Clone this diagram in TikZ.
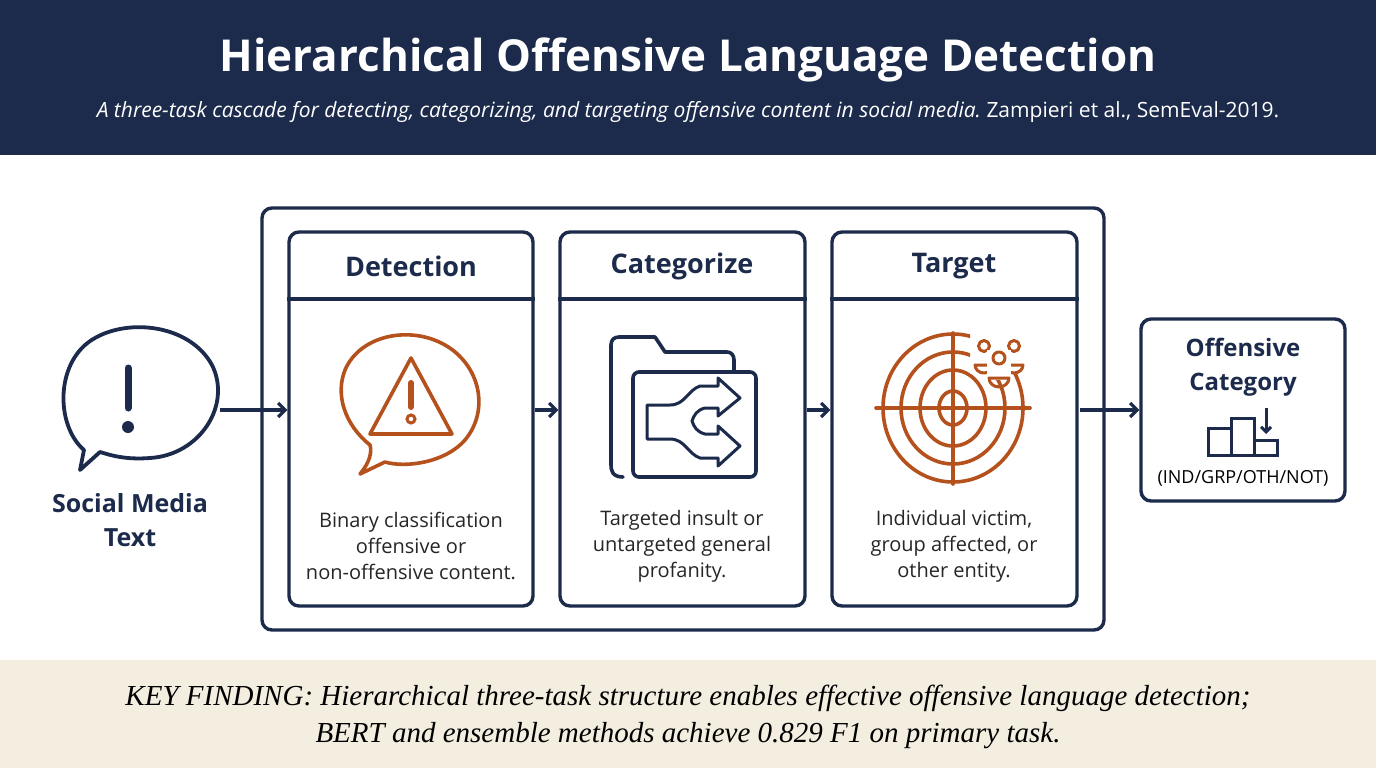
\documentclass[tikz,border=0pt]{standalone}
\usepackage{fontspec}
\setmainfont{Open Sans}
\newfontfamily\serifit{Liberation Serif}
\usetikzlibrary{arrows.meta}
\definecolor{navy}{HTML}{1C2B4B}
\definecolor{rust}{HTML}{B4511C}
\definecolor{beige}{HTML}{F4EEE1}
\tikzset{
  panel/.style={draw=navy,line width=3.4pt,rounded corners=10pt},
  flow/.style={draw=navy,line width=3.2pt,-{Straight Barb[length=7pt,width=14pt]}},
  head/.style={text=navy,font=\fontsize{27}{30}\selectfont\bfseries},
  desc/.style={text=black!85,font=\fontsize{20}{26}\selectfont,align=center},
  ico/.style={line width=3.6pt,line join=round,line cap=round},
}
\begin{document}
\begin{tikzpicture}[x=1pt,y=-1pt]
\useasboundingbox (0,0) rectangle (1376,768);
\fill[white] (0,0) rectangle (1376,768);
\fill[navy] (0,0) rectangle (1376,155);
\node[text=white,font=\fontsize{44}{48}\selectfont\bfseries] (title) at (688,60) {Hierarchical Offensive Language Detection};
\node[text=white,font=\fontsize{21}{24}\selectfont] (sub) at (688,112) {\itshape A three-task cascade for detecting, categorizing, and targeting offensive content in social media.\upshape\ Zampieri et al., SemEval-2019.};
\fill[beige] (0,660) rectangle (1376,768);
\node[font=\serifit\itshape\fontsize{29}{37}\selectfont,align=center,text=black] (key) at (688,717) {KEY FINDING: Hierarchical three-task structure enables effective offensive language detection;\\BERT and ensemble methods achieve 0.829 F1 on primary task.};

% outer box
\draw[panel] (262,208) rectangle (1104,630);
\node[panel,minimum width=244pt,minimum height=374pt] (p1) at (411,419) {};
\node[panel,minimum width=245pt,minimum height=374pt] (p2) at (682.5,419) {};
\node[panel,minimum width=245pt,minimum height=374pt] (p3) at (954.5,419) {};
\foreach \p in {p1,p2,p3}{\draw[navy,line width=3.4pt] (\p.west |- 0,299) -- (\p.east |- 0,299);}
\node[head] (h1) at (411,266) {Detection};
\node[head] (h2) at (682,266) {Categorize};
\node[head] (h3) at (954,266) {Target};
\node[desc] (d1) at (411,546) {Binary classification\\offensive or\\non-offensive content.};
\node[desc] (d2) at (682,546) {Targeted insult or\\untargeted general\\profanity.};
\node[desc] (d3) at (954,546) {Individual victim,\\group affected, or\\other entity.};

% source
\draw[ico,navy,line width=3.8pt] (84,450) .. controls (55,425) and (55,360) .. (95,338) .. controls (130,318) and (190,325) .. (212,365) .. controls (232,405) and (200,455) .. (150,458) .. controls (125,460) and (110,455) .. (100,452) -- (80,470) -- cycle;
\draw[navy,line width=7pt,line cap=round] (128,368) -- (128,408);
\fill[navy] (128,427) circle (6);
\node[text=navy,font=\fontsize{25}{34}\selectfont\bfseries,align=center] (src) at (130,520) {Social Media\\Text};
\coordinate (srcR) at (220,410);

% output
\node[panel,minimum width=204pt,minimum height=182pt] (out) at (1243,410) {};
\node[text=navy,font=\fontsize{24}{34}\selectfont\bfseries,align=center] (ot) at (1243,367) {Offensive\\Category};
\draw[navy,line width=3pt] (1208,455) rectangle (1231,428) (1231,455) rectangle (1254,418) (1254,455) rectangle (1277,440);
\draw[navy,line width=3pt,-{Straight Barb[length=5pt,width=10pt]}] (1266,408) -- (1266,434);
\node[text=black,font=\fontsize{18}{22}\selectfont] (cats) at (1243,478) {(IND/GRP/OTH/NOT)};

% arrows
\draw[flow] (srcR) -- (p1.west |- srcR);
\draw[flow] (p1.east |- srcR) -- (p2.west |- srcR);
\draw[flow] (p2.east |- srcR) -- (p3.west |- srcR);
\draw[flow] (1080,410) -- (out.west);

% detection icon
\draw[ico,rust] (360,474) .. controls (370,462) and (372,452) .. (370,445) .. controls (345,425) and (335,395) .. (345,370) .. controls (360,335) and (410,325) .. (445,345) .. controls (480,365) and (490,410) .. (465,440) .. controls (445,463) and (405,468) .. (385,462) -- cycle;
\draw[ico,rust] (411,358) -- (452,434) -- (370,434) -- cycle;
\draw[rust,line width=6pt,line cap=round] (411,383) -- (411,407);
\draw[rust,line width=3pt] (411,419) circle (4);

% categorize icon
\draw[ico,navy] (623,477) .. controls (612,477) and (611,470) .. (611,465) -- (611,345) .. controls (611,340) and (614,337) .. (619,337) -- (655,337) -- (665,352) -- (727,352) .. controls (731,352) and (734,355) .. (734,360) -- (734,372);
\draw[ico,navy,rounded corners=6pt] (633,477) -- (633,372) -- (756,372) -- (756,477) -- cycle;
\draw[ico,navy,line width=3pt] (647,405) -- (670,405) .. controls (685,405) and (688,390) .. (700,386) -- (718,386) -- (718,378) -- (740,398) -- (718,416) -- (718,408) -- (705,408) .. controls (697,410) and (694,415) .. (692,421) .. controls (694,427) and (697,432) .. (705,434) -- (718,434) -- (718,426) -- (740,446) -- (718,466) -- (718,458) -- (700,458) .. controls (688,454) and (685,439) .. (670,439) -- (647,439) -- cycle;

% target icon
\begin{scope}[rust,ico]
\begin{scope}[even odd rule]
\clip (860,320) rectangle (1040,495) (970,325) rectangle (1034,374);
\draw (953,408) ellipse (14 and 17);
\draw (953,408) ellipse (33 and 38);
\draw (953,408) ellipse (52 and 56);
\draw (953,408) ellipse (70 and 74);
\draw (876,408) -- (1030,408);
\end{scope}
\draw (953,333) -- (953,484);
\draw[line width=3pt] (984,346) circle (5.5) (975,365) arc (180:0:9 and 8) -- cycle;
\draw[line width=3pt] (1014,346) circle (5.5) (1005,365) arc (180:0:9 and 8) -- cycle;
\fill[white] (987,350) rectangle (1011,380);
\draw[line width=3pt] (999,358) circle (6) (989,378) arc (180:0:10 and 9) -- cycle;
\end{scope}
\end{tikzpicture}
\end{document}
